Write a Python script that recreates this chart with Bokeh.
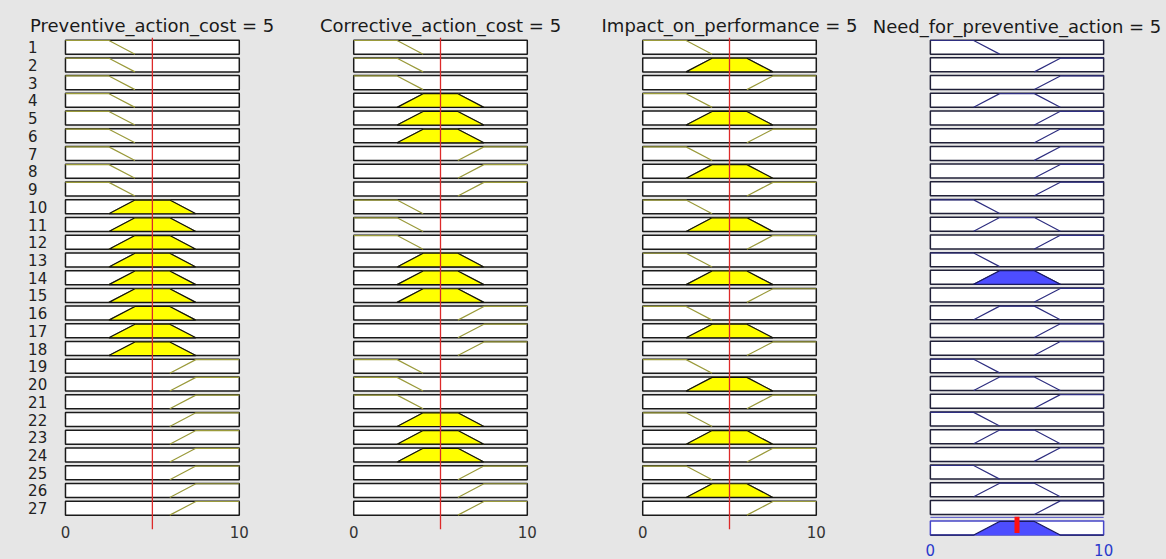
import numpy as np
from bokeh.plotting import figure
from bokeh.models import Range1d, Span
from bokeh.models import FixedTicker
from bokeh.layouts import row
from bokeh.embed import file_html
from bokeh.resources import INLINE

# ---------------- data ----------------
input_names = ["Preventive_action_cost", "Corrective_action_cost", "Impact_on_performance"]
output_name = "Need_for_preventive_action"
input_values = [5, 5, 5]
output_value = 5
mf_low = [0, 0, 2.5, 4]
mf_medium = [2.5, 4, 6, 7.5]
mf_high = [6, 7.5, 10, 10]
rule_numbers = list(range(1, 28))
rule_in1 = list("LLLLLLLLLMMMMMMMMMHHHHHHHHH")
rule_in2 = list("LLLMMMHHHLLLMMMHHHLLLMMMHHH")
rule_in3 = list("LMHLMHLMHLMHLMHLMHLMHLMHLMH")
rule_out = list("LHHMHHHHHLMHLMHMHHLMHLMHLMH")
x_ticks = [0, 10]
x_tick_labels = ["0", "10"]

MF = {"L": mf_low, "M": mf_medium, "H": mf_high}
rule_inputs = [rule_in1, rule_in2, rule_in3]

# ---------------- style ----------------
BG = "#e6e6e6"
FONT = "DejaVu Sans"
TOP = 0.40
BOT = 0.39
MU = 0.77
R_AGG = 28.16
SCALE = 17.35  # px per x unit


def trapmf(x, p):
    a, b, c, d = p
    x = np.asarray(x, float)
    left = np.ones_like(x) if b == a else np.clip((x - a) / (b - a), 0, 1)
    right = np.ones_like(x) if d == c else np.clip((d - x) / (d - c), 0, 1)
    y = np.minimum(left, right)
    return np.where((x < a) | (x > d), 0.0, y)


def mf_line(p):
    a, b, c, d = p
    xs, ms = [], []
    if b > a:
        xs += [a, b]; ms += [0, 1]
    else:
        xs += [a]; ms += [1]
    if d > c:
        xs += [c, d]; ms += [1, 0]
    else:
        xs += [c]; ms += [1]
    return xs, ms


def mf_clip(p, h):
    a, b, c, d = p
    return [a, a + h * (b - a), d - h * (d - c), d], [0, h, h, 0]


def to_y(r, mus):
    return [r + BOT - m * MU for m in mus]


def base_fig(title, x0, x1, mbl, mbr, frame_h, y_end, standoff, out=False,
             align="center", offset=0):
    p = figure(frame_width=int(round((x1 - x0) * SCALE)), frame_height=frame_h,
               x_range=Range1d(x0, x1), y_range=Range1d(y_end, 0.45),
               output_backend="svg", toolbar_location=None,
               min_border_left=mbl, min_border_right=mbr, min_border_top=37,
               min_border_bottom=0 if out else 22,
               background_fill_color=BG, border_fill_color=BG,
               outline_line_color=None,
               y_axis_location=None,
               x_axis_location=None if out else "below")
    p.grid.visible = False
    p.title.text = title
    p.title.text_font = FONT
    p.title.text_font_size = "18px"
    p.title.text_font_style = "normal"
    p.title.text_color = "#1a1a1a"
    p.title.align = align
    p.title.offset = offset
    p.title.standoff = standoff
    return p


# firing strengths
in_mu = []
for k in range(3):
    in_mu.append([float(trapmf([input_values[k]], MF[t])[0]) for t in rule_inputs[k]])
weights = [min(in_mu[0][i], in_mu[1][i], in_mu[2][i]) for i in range(len(rule_numbers))]

figs = []
# (x_start, x_end, min_border_left, min_border_right, title align, title offset)
geo = [(-2.3, 10.3, 25, 50, "left", 4.5), (-0.3, 10.3, 54, 50, "center", 0),
       (-0.3, 10.3, 55, 49, "center", 0)]
for k in range(3):
    x0, x1, mbl, mbr, al, off = geo[k]
    p = base_fig(f"{input_names[k]} = {input_values[k]}", x0, x1, mbl, mbr,
                 492, 28.2, 4, align=al, offset=off)
    p.quad(left=[0] * 27, right=[10] * 27,
           top=[r - TOP for r in rule_numbers], bottom=[r + BOT for r in rule_numbers],
           fill_color="white", line_color="#1a1a1a", line_width=1.5)
    xs_l, ys_l, xs_f, ys_f = [], [], [], []
    for i, r in enumerate(rule_numbers):
        prm = MF[rule_inputs[k][i]]
        xx, mm = mf_line(prm)
        xs_l.append(xx); ys_l.append(to_y(r, mm))
        h = in_mu[k][i]
        if h > 0:
            cx, cm = mf_clip(prm, h)
            xs_f.append(cx); ys_f.append(to_y(r, cm))
    p.multi_line(xs_l, ys_l, line_color="#9a9a3a", line_width=1.2)
    if xs_f:
        p.patches(xs_f, ys_f, fill_color="#ffff00", line_color="#111111", line_width=1.2)
    p.add_layout(Span(location=input_values[k], dimension="height",
                      line_color="#dd2a2a", line_width=1.3))
    ax = p.xaxis[0]
    ax.ticker = FixedTicker(ticks=x_ticks)
    ax.major_label_overrides = {t: l for t, l in zip(x_ticks, x_tick_labels)}
    ax.axis_line_color = None
    ax.major_tick_line_color = None
    ax.minor_tick_line_color = None
    ax.major_label_standoff = -10
    ax.major_label_text_font = FONT
    ax.major_label_text_font_size = "15px"
    ax.major_label_text_color = "#333333"
    if k == 0:
        p.text(x=[-2.15] * 27, y=rule_numbers, text=[str(r) for r in rule_numbers],
               text_align="left", text_baseline="middle", text_font_size="15px",
               text_color="#222222", text_font={"value": FONT})
    figs.append(p)

# output column
po = base_fig(f"{output_name} = {output_value}", -0.8, 10.8, 46, 49, 522, 29.93, 1.5, out=True)
po.quad(left=[0] * 27, right=[10] * 27,
        top=[r - TOP for r in rule_numbers], bottom=[r + BOT for r in rule_numbers],
        fill_color="white", line_color="#202038", line_width=1.5)
xs_l, ys_l, xs_f, ys_f = [], [], [], []
grid = np.linspace(0, 10, 1001)
agg = np.zeros_like(grid)
for i, r in enumerate(rule_numbers):
    prm = MF[rule_out[i]]
    xx, mm = mf_line(prm)
    xs_l.append(xx); ys_l.append(to_y(r, mm))
    w = weights[i]
    if w > 0:
        cx, cm = mf_clip(prm, w)
        xs_f.append(cx); ys_f.append(to_y(r, cm))
        agg = np.maximum(agg, np.minimum(w, trapmf(grid, prm)))
po.multi_line(xs_l, ys_l, line_color="#2e2e80", line_width=1.2)
if xs_f:
    po.patches(xs_f, ys_f, fill_color="#4d4dff", line_color="#1a1a60", line_width=1.2)

# aggregated output
po.segment(x0=[0], x1=[10], y0=[R_AGG - 0.61], y1=[R_AGG - 0.61], line_color="#5050c8", line_width=1)
po.quad(left=[0], right=[10], top=[R_AGG - TOP], bottom=[R_AGG + BOT],
        fill_color="white", line_color="#4646c8", line_width=1.5)
base = R_AGG + BOT
po.varea(x=grid, y1=np.full_like(grid, base), y2=base - agg * MU, fill_color="#4d4dff")
po.line(grid, base - agg * MU, line_color="#1a1a60", line_width=1.2)
centroid = float(np.sum(grid * agg) / np.sum(agg))
po.segment(x0=[centroid], x1=[centroid], y0=[R_AGG - 0.64], y1=[R_AGG + 0.28],
           line_color="#ff1010", line_width=5)
po.text(x=x_ticks, y=[29.42] * 2, text=x_tick_labels, text_align="center",
        text_baseline="middle", text_font_size="15px", text_color="#2a3acc",
        text_font={"value": FONT})
figs.append(po)

layout = row(*figs, spacing=0, styles={"background-color": BG})
open("out.html", "w").write(file_html(layout, INLINE))
